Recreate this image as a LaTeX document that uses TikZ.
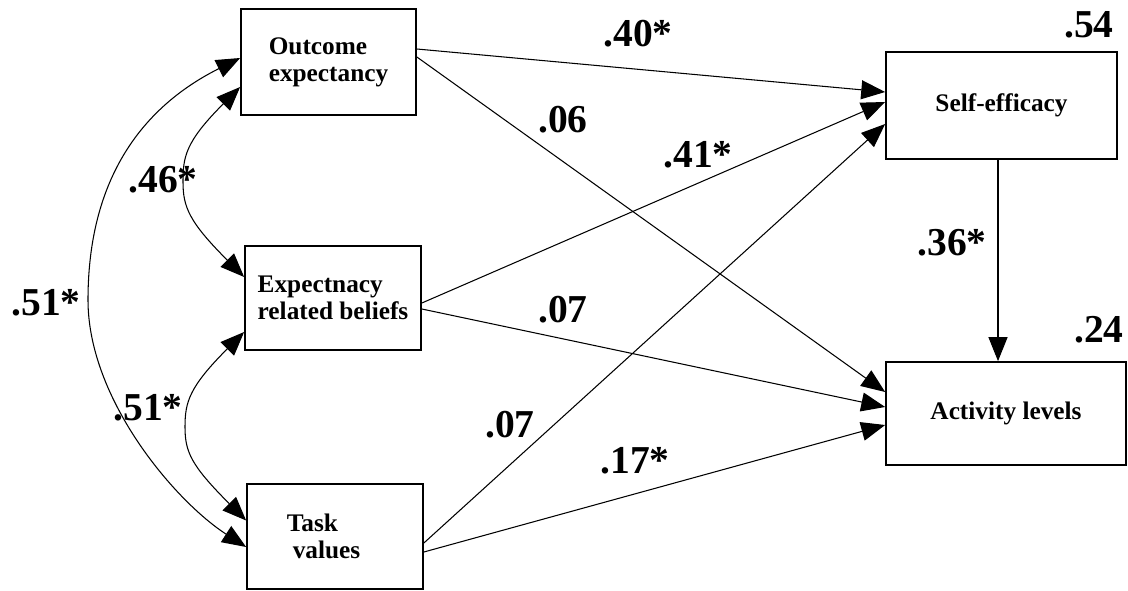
\documentclass[tikz,border=0pt]{standalone}
\usepackage{fontspec}
\setmainfont{Liberation Serif}
\usepackage{tikz}
\usetikzlibrary{calc,arrows.meta}

\begin{document}
\begin{tikzpicture}[x=0.02cm, y=-0.02cm,
  varbox/.style={draw, line width=1pt, inner sep=0pt,
    font=\fontsize{14.4}{15.5}\selectfont\bfseries},
  arr/.style={line width=0.6pt, -{Triangle[length=13.6pt, width=10.8pt]}},
  corr/.style={line width=0.6pt,
    {Triangle[length=13.6pt, width=10.8pt]}-{Triangle[length=13.6pt, width=10.8pt]}},
  coef/.style={anchor=base, inner sep=0pt, font=\fontsize{22.5}{24}\selectfont\bfseries}]
\useasboundingbox (0, 0) rectangle (1128, 591);

% predictors
\node (oe) at (328.5, 62) [varbox, minimum width=3.5cm, minimum height=2.12cm, align=left] {Outcome\\expectancy};
\node (erb) at (333, 298) [varbox, minimum width=3.52cm, minimum height=2.08cm, align=left] {Expectnacy\\related beliefs};
\node (tv) at (335, 536.5) [varbox, minimum width=3.52cm, minimum height=2.1cm, align=left] {Task\\\hspace*{3.4pt}values\hspace*{13pt}};
% outcomes
\node (se) at (1001.5, 105.5) [varbox, minimum width=4.62cm, minimum height=2.14cm] {Self-efficacy};
\node (al) at (1006, 413.5) [varbox, minimum width=4.8cm, minimum height=2.06cm] {Activity levels};

\draw [arr] ($(oe.east)+(0,-13)$) -- ($(se.west)+(0,-13.5)$);
\draw [arr] ($(oe.east)+(0,-5)$) -- ($(al.west)+(0,-21.5)$);
\draw [arr] ($(erb.east)+(0,5)$) -- ($(se.west)+(0,-3.5)$);
\draw [arr] ($(erb.east)+(0,11)$) -- ($(al.west)+(0,-6.5)$);
\draw [arr] ($(tv.east)+(0,6.5)$) -- ($(se.west)+(0,18.5)$);
\draw [arr] ($(tv.east)+(0,15.5)$) -- ($(al.west)+(0,11.5)$);
\draw [arr] ($(se.south)+(-3.5,0)$) -- ($(al.north)+(-8,0)$);

% correlations
\draw [corr] ($(oe.west)+(0,25)$) .. controls +(-55,55) and +(0,-25) .. (183, 182)
  .. controls +(0,25) and +(-55,-55) .. ($(erb.west)+(0,-21)$);
\draw [corr] ($(erb.west)+(0,34)$) .. controls +(-55,55) and +(0,-25) .. (185, 427)
  .. controls +(0,25) and +(-55,-55) .. ($(tv.west)+(0,-16)$);
\draw [corr] ($(oe.west)+(0,-4)$) .. controls +(-90,45) and +(0,-130) .. (88, 300)
  .. controls +(0,100) and +(-70,-45) .. ($(tv.west)+(0,10.5)$);

\node (c54) at (1089, 38) [coef] {.54};
\node (c40) at (638, 47) [coef] {.40*};
\node (c06) at (563, 133) [coef] {.06};
\node (c41) at (698, 168) [coef] {.41*};
\node (c36) at (952, 255) [coef] {.36*};
\node (c24) at (1099, 342) [coef] {.24};
\node (c07a) at (563, 322) [coef] {.07};
\node (c07b) at (510, 437) [coef] {.07};
\node (c17) at (635, 473) [coef] {.17*};
\node (c46) at (163, 193) [coef] {.46*};
\node (c51a) at (46, 315) [coef] {.51*};
\node (c51b) at (148, 420) [coef] {.51*};
%\node at (334, 610) {};
\end{tikzpicture}
\end{document}
